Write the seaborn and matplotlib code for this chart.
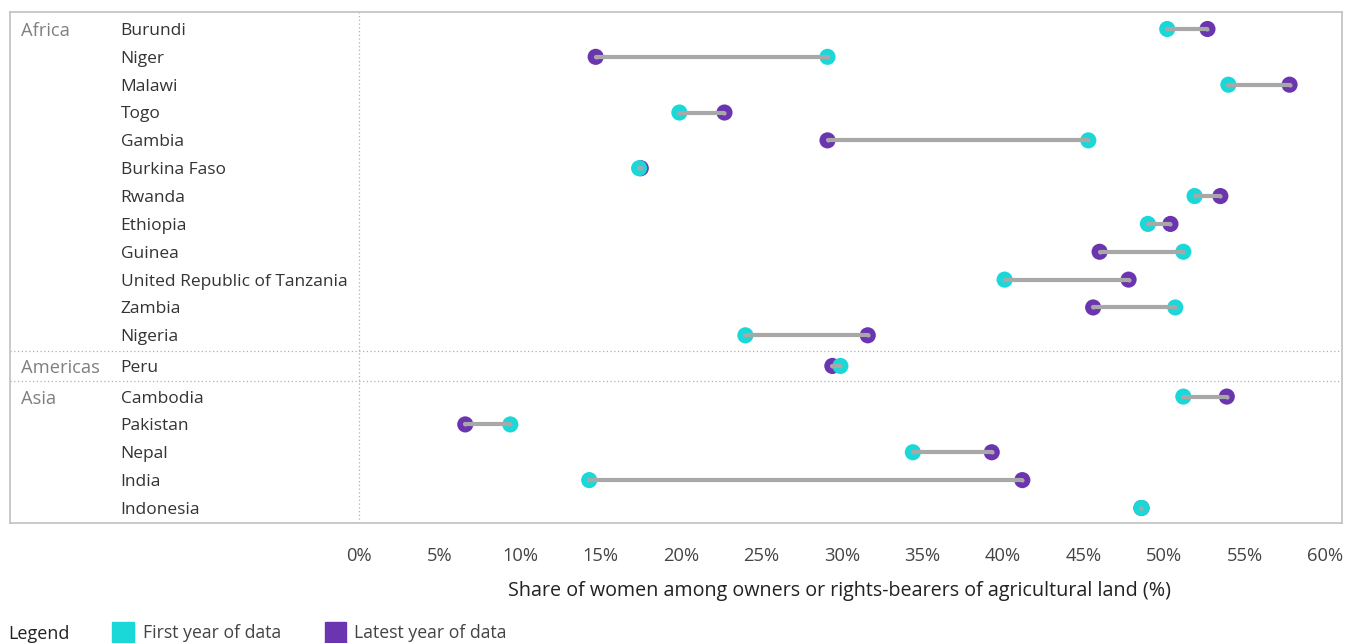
import pandas as pd
import matplotlib.pyplot as plt
from matplotlib.patches import Rectangle
import seaborn as sns

# Data (share of women, %)
regions = ['Africa'] * 12 + ['Americas'] + ['Asia'] * 5
countries = ['Burundi', 'Niger', 'Malawi', 'Togo', 'Gambia', 'Burkina Faso', 'Rwanda',
             'Ethiopia', 'Guinea', 'United Republic of Tanzania', 'Zambia', 'Nigeria',
             'Peru',
             'Cambodia', 'Pakistan', 'Nepal', 'India', 'Indonesia']
first_year = [50.2, 29.1, 54.0, 19.9, 45.3, 17.4, 51.9, 49.0, 51.2, 40.1, 50.7, 24.0,
              29.9,
              51.2, 9.4, 34.4, 14.3, 48.6]
latest_year = [52.7, 14.7, 57.8, 22.7, 29.1, 17.5, 53.5, 50.4, 46.0, 47.8, 45.6, 31.6,
               29.4,
               53.9, 6.6, 39.3, 41.2, 48.6]
xticks = list(range(0, 65, 5))

CYAN = '#1ad8d8'
PURPLE = '#6a35ae'
GREY_LINE = '#a8a8a8'
FRAME = '#c0c0c0'

sns.set_style('white')
plt.rcParams['font.family'] = ['Open Sans', 'DejaVu Sans']

# row positions: small extra gap between region groups
ypos = []
y = 0.0
for i, r in enumerate(regions):
    if i > 0 and r != regions[i - 1]:
        y += 0.1
    ypos.append(y)
    y += 1

df = pd.DataFrame({'region': regions, 'country': countries, 'y': ypos,
                   'first': first_year, 'latest': latest_year})
long_df = pd.concat([
    pd.DataFrame({'y': df['y'], 'value': df['latest'], 'series': 'Latest year of data'}),
    pd.DataFrame({'y': df['y'], 'value': df['first'], 'series': 'First year of data'}),
], ignore_index=True)

fig = plt.figure(figsize=(13.46, 6.43), dpi=100)
ax = fig.add_axes([10 / 1346, 1 - 523 / 643, 1332 / 1346, 511 / 643])

sns.scatterplot(data=long_df, x='value', y='y', hue='series',
                palette={'Latest year of data': PURPLE, 'First year of data': CYAN},
                s=135, linewidth=0, legend=False, ax=ax, zorder=3)

for _, row in df.iterrows():
    ax.plot([row['first'], row['latest']], [row['y'], row['y']], color=GREY_LINE,
            lw=3.0, solid_capstyle='round', marker='o', ms=3.0, mew=0, zorder=4)

# labels on the left
for i, row in df.iterrows():
    if i == 0 or regions[i] != regions[i - 1]:
        ax.text(-21.0, row['y'] + 0.07, row['region'], ha='left', va='center',
                fontsize=13.2, color='#808080')
    ax.text(-14.8, row['y'] + 0.07, row['country'], ha='left', va='center',
            fontsize=12.5, color='#333333')

# separators between region groups
for i in range(1, len(regions)):
    if regions[i] != regions[i - 1]:
        ax.axhline((ypos[i] + ypos[i - 1]) / 2, color='#b0b0b0', lw=0.9,
                   ls=(0, (1, 2)), zorder=1)
ax.axvline(0, color='#b0b0b0', lw=0.9, ls=(0, (1, 2)), zorder=1)

ax.set_xlim(-349 / 16.1, 983 / 16.1)
ax.set_ylim(ypos[-1] + 0.54, -0.61)
ax.set_yticks([])
ax.set_xticks(xticks)
ax.set_xticklabels([f'{t}%' for t in xticks], fontsize=13.2, color='#444444')
ax.tick_params(axis='x', direction='out', length=9, width=1.2, color='#c8c8c8', pad=8)
for s in ax.spines.values():
    s.set_color(FRAME)
    s.set_linewidth(1.2)
ax.set_xlabel('Share of women among owners or rights-bearers of agricultural land (%)',
              fontsize=14.2, color='#222222')
ax.set_ylabel('')
ax.xaxis.set_label_coords((840 - 10) / 1332, -(581 - 523) / 511)

# custom legend along the bottom
fig.text(8 / 1346, 1 - 634 / 643, 'Legend', fontsize=13, color='#222222', va='center')
fig.patches.append(Rectangle((112 / 1346, 1 - 643 / 643), 22 / 1346, 21 / 643,
                             transform=fig.transFigure, color=CYAN))
fig.text(143 / 1346, 1 - 633 / 643, 'First year of data', fontsize=12.7, color='#444444', va='center')
fig.patches.append(Rectangle((325 / 1346, 1 - 643 / 643), 21 / 1346, 21 / 643,
                             transform=fig.transFigure, color=PURPLE))
fig.text(354 / 1346, 1 - 633 / 643, 'Latest year of data', fontsize=12.7, color='#444444', va='center')

fig.savefig('out.png', dpi=100)
